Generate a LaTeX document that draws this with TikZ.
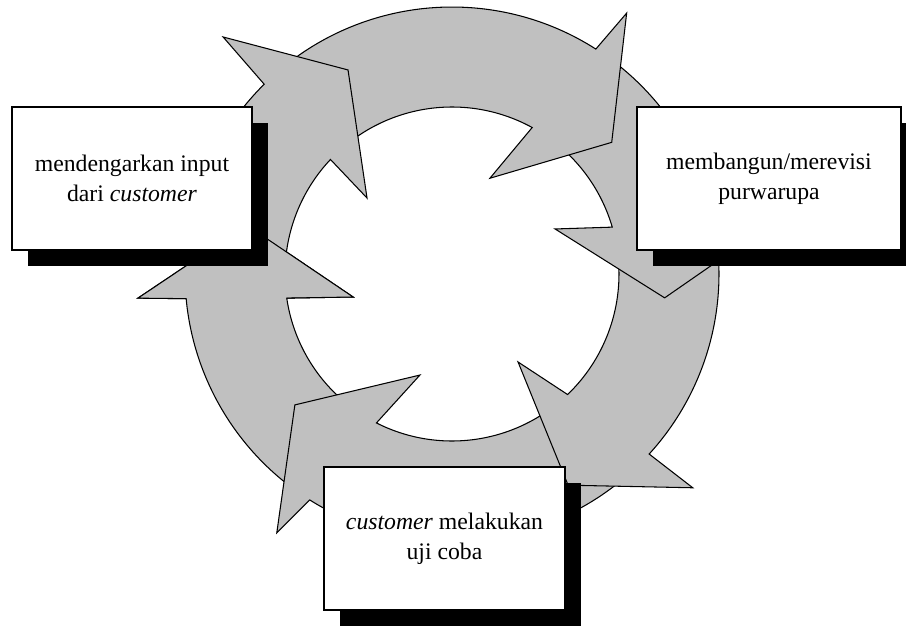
\documentclass[tikz,border=0pt]{standalone}
\usepackage{fontspec}
\setmainfont{Liberation Serif}
\usetikzlibrary{shadows}
\definecolor{ringgray}{RGB}{192,192,192}

\begin{document}
\begin{tikzpicture}[
  ring/.style={draw, fill=ringgray, line width=0.6pt},
  stepbox/.style={draw, fill=white, line width=0.6pt, minimum height=2.86cm, align=center,
    font=\fontsize{13.5}{17.2}\selectfont,
    drop shadow={shadow xshift=0.32cm, shadow yshift=-0.32cm, fill=black, opacity=1}}
]
\useasboundingbox (-9.04,-7.04) rectangle (9.08,5.48);

% ring of six arrows, each head lies on the tail of the next one
\draw[ring] (233:5.34) arc[start angle=233, end angle=185.3, radius=5.34] -- (184.4:6.3) -- (166.6:4.22) -- (193.1:2.03) -- (188.3:3.34) arc[start angle=188.3, end angle=233, radius=3.34] -- cycle;
\draw[ring] (-50:5.34) arc[start angle=-50, end angle=-122.2, radius=5.34] -- (-124.1:6.25) -- (-140.2:4.09) -- (-107.6:2.12) -- (-116.9:3.34) arc[start angle=-116.9, end angle=-50, radius=3.34] -- cycle;
\draw[ring] (5:5.34) arc[start angle=5, end angle=-42.4, radius=5.34] -- (-41.6:6.44) -- (-61.2:4.82) -- (-53.1:2.2) -- (-46.2:3.34) arc[start angle=-46.2, end angle=5, radius=3.34] -- cycle;
\draw[ring] (52:5.34) arc[start angle=52, end angle=9.6, radius=5.34] -- (8.1:6.28) -- (-6.4:4.28) -- (23.6:2.25) -- (16.3:3.34) arc[start angle=16.3, end angle=52, radius=3.34] -- cycle;
\draw[ring] (128:5.34) arc[start angle=128, end angle=57.4, radius=5.34] -- (56.2:6.28) -- (39.5:4.14) -- (68.4:2.06) -- (61.3:3.34) arc[start angle=61.3, end angle=128, radius=3.34] -- cycle;
\draw[ring] (180:5.34) arc[start angle=180, end angle=134.7, radius=5.34] -- (134:6.59) -- (117:4.58) -- (138.2:2.28) -- (136.7:3.34) arc[start angle=136.7, end angle=180, radius=3.34] -- cycle;

% left head once more, over the tail of the last arrow
\fill[ringgray] (184.4:6.3) -- (166.6:4.22) -- (193.1:2.03) -- cycle;
\draw[line width=0.6pt] (185.3:5.34) -- (184.4:6.3) -- (166.6:4.22) -- (193.1:2.03) -- (188.3:3.34);

% steps
\node[stepbox, minimum width=4.8cm] (listen) at (-6.4,1.91) {mendengarkan input\\dari \textit{customer}};
\node[stepbox, minimum width=5.28cm] (build) at (6.34,1.91) {membangun/merevisi\\purwarupa};
\node[stepbox, minimum width=4.82cm] (test) at (-0.15,-5.29) {\textit{customer} melakukan\\uji coba};

\end{tikzpicture}
\end{document}
